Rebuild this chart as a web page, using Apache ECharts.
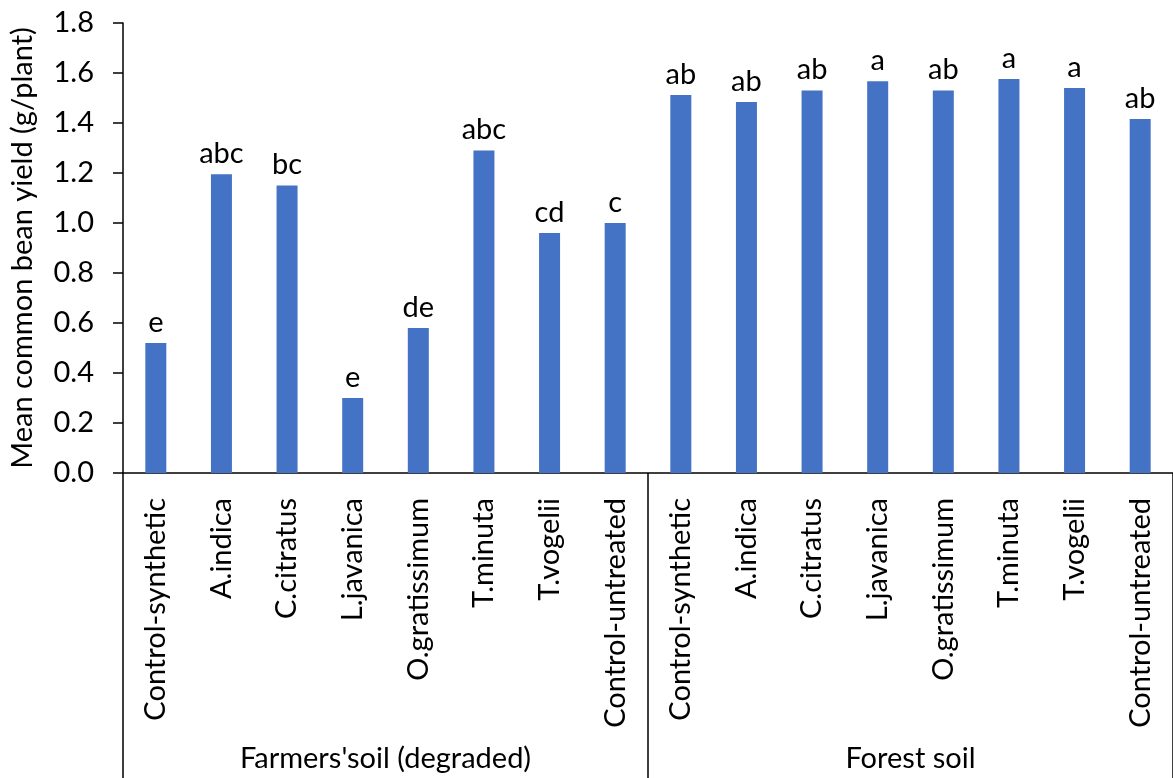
<!DOCTYPE html>
<html>
<head>
<meta charset="utf-8">
<script src="https://cdn.jsdelivr.net/npm/echarts@6/dist/echarts.min.js"></script>
<style>
  html, body { margin: 0; padding: 0; background: #fff; }
  #chart { width: 1173px; height: 778px; }
</style>
</head>
<body>
<div id="chart"></div>
<script>
// treatments, repeated for both soils
var categories = [
  'Control-synthetic', 'A.indica', 'C.citratus', 'L.javanica', 'O.gratissimum', 'T.minuta', 'T.vogelii', 'Control-untreated',
  'Control-synthetic', 'A.indica', 'C.citratus', 'L.javanica', 'O.gratissimum', 'T.minuta', 'T.vogelii', 'Control-untreated'
];
var groups = ["Farmers'soil (degraded)", 'Forest soil'];
// mean yield g/plant
var yieldValues = [0.52, 1.195, 1.15, 0.30, 0.58, 1.29, 0.96, 1.00,
                   1.512, 1.484, 1.53, 1.567, 1.53, 1.576, 1.54, 1.416];
var letters = ['e', 'abc', 'bc', 'e', 'de', 'abc', 'cd', 'c',
               'ab', 'ab', 'ab', 'a', 'ab', 'a', 'a', 'ab'];

var font = 'Lato';
var fs = 29;
var chart = echarts.init(document.getElementById('chart'));

var option = {
  animation: false,
  textStyle: { fontFamily: font },
  grid: {
    left: 122,
    top: 23,
    right: -5,
    bottom: 305,
    containLabel: false
  },
  xAxis: [{
    type: 'category',
    data: categories,
    axisLine: { lineStyle: { color: '#000', width: 1.5 } },
    axisTick: {
      show: true,
      length: 310,
      interval: function (index) {
        return index === 0 || index === 8 || index === 16;
      },
      lineStyle: { color: '#000', width: 1.5 }
    },
    axisLabel: {
      rotate: 90,
      interval: 0,
      margin: 25,
      color: '#000',
      fontSize: fs,
      fontFamily: font
    }
  }, {
    type: 'category',
    data: groups,
    position: 'bottom',
    offset: 263,
    axisLine: { show: false },
    axisTick: { show: false },
    axisLabel: {
      color: '#000',
      fontSize: fs,
      fontFamily: font
    }
  }],
  yAxis: {
    type: 'value',
    min: 0,
    max: 1.8,
    interval: 0.2,
    name: 'Mean common bean yield (g/plant)',
    nameLocation: 'middle',
    nameRotate: 90,
    nameGap: 86,
    nameTextStyle: { color: '#000', fontSize: fs, fontFamily: font },
    axisLine: { show: true, lineStyle: { color: '#000', width: 1.5 } },
    axisTick: { show: true, length: 10, lineStyle: { color: '#000', width: 1.5 } },
    splitLine: { show: false },
    axisLabel: {
      color: '#000',
      fontSize: fs,
      margin: 29,
      fontFamily: font,
      formatter: function (v) { return v.toFixed(1); }
    }
  },
  series: [{
    type: 'bar',
    data: yieldValues,
    barWidth: 21,
    itemStyle: { color: '#4472C4' },
    label: {
      show: true,
      position: 'top',
      distance: 6,
      color: '#000',
      fontSize: fs,
      fontFamily: font,
      formatter: function (p) { return letters[p.dataIndex]; }
    }
  }]
};

chart.setOption(option);
</script>
</body>
</html>
